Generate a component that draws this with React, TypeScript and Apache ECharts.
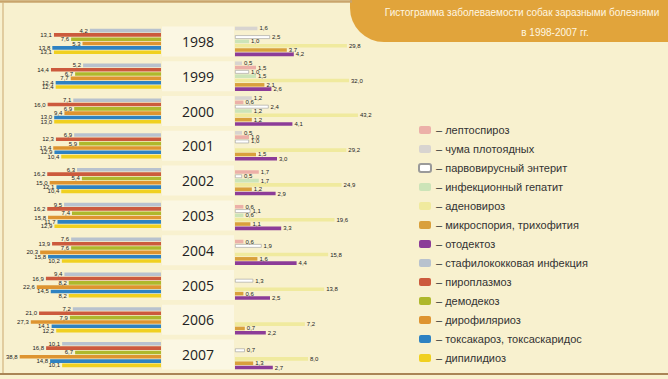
import React, { useEffect, useRef } from 'react';
import * as echarts from 'echarts';

const years = ['1998', '1999', '2000', '2001', '2002', '2003', '2004', '2005', '2006', '2007'];

// left side (bars grow to the left)
const staph = [4.2, 5.2, 7.1, 6.9, 6.3, 9.5, 7.6, 9.4, 7.2, 10.1];
const piro = [13.1, 14.4, 16.0, 12.3, 16.2, 16.2, 13.9, 16.9, 21.0, 16.8];
const demo = [7.6, 6.7, 6.9, 5.9, 5.4, 7.4, 7.6, 8.2, 7.9, 6.7];
const diro = [5.3, 7.7, 9.4, 13.4, 15.0, 15.8, 20.3, 22.6, 27.3, 38.8];
const toxo = [13.8, 12.4, 13.0, 12.9, 12.1, 11.7, 15.8, 14.5, 14.1, 14.8];
const dipil = [13.1, 12.4, 13.0, 10.4, 10.4, 12.9, 10.2, 8.2, 12.2, 10.1];

// right side (bars grow to the right)
const chuma = [1.6, 0.5, 1.2, 0.5, null, null, null, null, null, null];
const lepto = [null, 1.5, 0.6, 1.0, 1.7, 0.6, 0.6, null, null, null];
const parvo = [2.5, 1.0, 2.4, 1.0, 0.5, 1.1, 1.9, 1.3, null, 0.7];
const hepat = [1.0, 1.5, 1.2, null, 1.7, 0.6, null, null, null, null];
const adeno = [29.8, 32.0, 43.2, 29.2, 24.9, 19.6, 15.8, 13.8, 7.2, 8.0];
const micro = [3.7, 2.1, 1.2, 1.5, 1.2, 1.1, 1.6, 0.6, 0.7, 1.3];
const oto = [4.2, 2.6, 4.1, 3.0, 2.9, 3.3, 4.4, 2.5, 2.2, 2.7];

const legendOrder = [
  'лептоспироз',
  'чума плотоядных',
  'парвовирусный энтерит',
  'инфекционный гепатит',
  'аденовироз',
  'микроспория, трихофития',
  'отодектоз',
  'стафилококковая инфекция',
  'пироплазмоз',
  'демодекоз',
  'дирофиляриоз',
  'токсакароз, токсаскаридос',
  'дипилидиоз',
];

const fmt = (p: any) =>
  p.value == null ? '' : Number(p.value).toFixed(1).replace('.', ',');

const BW = 3.6;
const GAP = '20%';

function leftSeries(name: string, data: (number | null)[], color: string) {
  return {
    name,
    type: 'bar',
    xAxisIndex: 0,
    yAxisIndex: 0,
    data,
    barWidth: BW,
    barGap: GAP,
    itemStyle: { color },
    label: {
      show: true,
      position: 'left',
      distance: 2,
      fontSize: 6,
      color: '#222',
      fontFamily: 'Liberation Sans',
      formatter: fmt,
    },
  };
}

function rightSeries(
  name: string,
  data: (number | null)[],
  color: string,
  xAxisIndex = 1,
  border?: string
) {
  return {
    name,
    type: 'bar',
    xAxisIndex,
    yAxisIndex: 1,
    data,
    barWidth: BW,
    barGap: GAP,
    itemStyle: border ? { color, borderColor: border, borderWidth: 0.6 } : { color },
    label: {
      show: true,
      position: 'right',
      distance: 2,
      fontSize: 6,
      color: '#222',
      fontFamily: 'Liberation Sans',
      formatter: fmt,
    },
  };
}

const option: any = {
  animation: false,
  backgroundColor: '#f8f1cf',
  grid: [
    { left: 2, right: 507, top: 24, bottom: 7 },
    { left: 235, width: 168, top: 24, bottom: 7 },
  ],
  xAxis: [
    { type: 'log', gridIndex: 0, inverse: true, min: 0.44, max: 68, startValue: 0.44, show: false },
    { type: 'value', gridIndex: 1, min: 0, max: 12, show: false },
    { type: 'log', gridIndex: 1, min: 0.68, max: 198, startValue: 0.68, show: false },
  ],
  yAxis: [
    {
      type: 'category',
      gridIndex: 0,
      data: years,
      inverse: true,
      axisLine: { show: false },
      axisTick: { show: false },
      axisLabel: { show: false },
      splitLine: { show: false },
    },
    {
      type: 'category',
      gridIndex: 1,
      data: years,
      inverse: true,
      axisLine: { show: false },
      axisTick: { show: false },
      splitLine: { show: false },
      axisLabel: {
        show: true,
        margin: 37,
        align: 'center',
        verticalAlign: 'middle',
        fontSize: 14,
        color: '#222',
        fontFamily: 'Open Sans',
        backgroundColor: '#fbf7e3',
        width: 72,
        height: 30,
        lineHeight: 30,
      },
    },
  ],
  legend: {
    data: legendOrder,
    orient: 'vertical',
    left: 413,
    top: 119,
    itemWidth: 12,
    itemHeight: 8,
    itemGap: 7,
    selectedMode: false,
    formatter: (n: string) => '– ' + n,
    textStyle: { fontSize: 11, color: '#333', lineHeight: 12, fontFamily: 'Liberation Sans' },
  },
  graphic: [
    {
      type: 'rect',
      shape: { x: 350, y: -1, width: 320, height: 43, r: [0, 0, 0, 34] },
      style: { fill: '#e1a43b' },
    },
    {
      type: 'text',
      x: 522,
      y: 12,
      style: {
        text: 'Гистограмма заболеваемости собак заразными болезнями',
        fill: '#fff7e2',
        fontSize: 10,
        fontFamily: 'Liberation Sans',
        align: 'center',
        verticalAlign: 'middle',
      },
    },
    {
      type: 'text',
      x: 555,
      y: 32,
      style: {
        text: 'в 1998-2007 гг.',
        fill: '#fff7e2',
        fontSize: 10,
        fontFamily: 'Liberation Sans',
        align: 'center',
        verticalAlign: 'middle',
      },
    },
    {
      type: 'line',
      shape: { x1: 0, y1: 1.5, x2: 352, y2: 1.5 },
      style: { stroke: '#c9a46c', lineWidth: 2.5 },
    },
    {
      type: 'line',
      shape: { x1: 3, y1: 2, x2: 3, y2: 374 },
      style: { stroke: '#d3b57f', lineWidth: 1.2 },
    },
    {
      type: 'line',
      shape: { x1: 0, y1: 374, x2: 668, y2: 374 },
      style: { stroke: '#a98556', lineWidth: 2 },
    },
  ],
  series: [
    leftSeries('стафилококковая инфекция', staph, '#b8c2ce'),
    leftSeries('пироплазмоз', piro, '#cc5a3d'),
    leftSeries('демодекоз', demo, '#aeb82c'),
    leftSeries('дирофиляриоз', diro, '#de9430'),
    leftSeries('токсакароз, токсаскаридос', toxo, '#2e82c2'),
    leftSeries('дипилидиоз', dipil, '#f0d020'),
    rightSeries('чума плотоядных', chuma, '#d8d4d0'),
    rightSeries('лептоспироз', lepto, '#ecb0a8'),
    rightSeries('парвовирусный энтерит', parvo, '#ffffff', 1, '#9a9a9a'),
    rightSeries('инфекционный гепатит', hepat, '#cce4b8'),
    rightSeries('аденовироз', adeno, '#f0ea9e', 2),
    rightSeries('микроспория, трихофития', micro, '#d9a03c'),
    rightSeries('отодектоз', oto, '#8c3c98'),
  ],
};

export default function App() {
  const ref = useRef<HTMLDivElement>(null);
  useEffect(() => {
    const chart = echarts.init(ref.current as HTMLDivElement, null, { renderer: 'svg' });
    chart.setOption(option);
    return () => chart.dispose();
  }, []);
  return (
    <div
      ref={ref}
      style={{ position: 'fixed', left: 0, top: 0, width: 668, height: 379, background: '#f8f1cf' }}
    />
  );
}
